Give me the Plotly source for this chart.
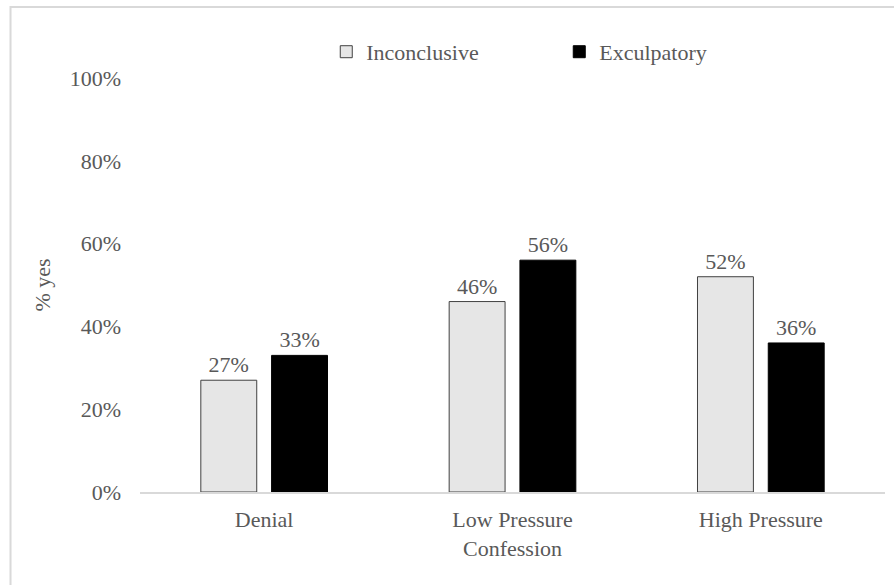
import plotly.graph_objects as go

# Share of "yes" responses by confession condition and evidence type
categories = ["Denial", "Low Pressure<br>Confession", "High Pressure"]
inconclusive = [0.27, 0.46, 0.52]
exculpatory = [0.33, 0.56, 0.36]

FONT = "Liberation Serif"
TEXT = "#595959"
SIZE = 22

fig = go.Figure()
fig.add_trace(go.Bar(
    name="Inconclusive", x=categories, y=inconclusive,
    marker=dict(color="#e6e6e6", line=dict(color="#404040", width=1)),
    text=[f"{v:.0%}" for v in inconclusive], textposition="outside",
    textfont=dict(family=FONT, size=SIZE, color=TEXT), cliponaxis=False,
))
fig.add_trace(go.Bar(
    name="Exculpatory", x=categories, y=exculpatory,
    marker=dict(color="#000000", line=dict(color="#000000", width=1)),
    text=[f"{v:.0%}" for v in exculpatory], textposition="outside",
    textfont=dict(family=FONT, size=SIZE, color=TEXT), cliponaxis=False,
))

fig.update_layout(
    width=894, height=585,
    margin=dict(l=140, r=9, t=78, b=93),
    paper_bgcolor="white", plot_bgcolor="white",
    font=dict(family=FONT, size=SIZE, color=TEXT),
    bargap=0.43, bargroupgap=0.21,
    showlegend=True,
    legend=dict(
        orientation="h", x=0.25, xanchor="left", y=1.063, yanchor="middle",
        entrywidth=188, entrywidthmode="pixels",
        font=dict(family=FONT, size=SIZE, color=TEXT),
        bgcolor="rgba(0,0,0,0)",
    ),
    xaxis=dict(
        showline=True, linecolor="#d9d9d9", linewidth=1.5,
        ticks="", showgrid=False, ticklabelstandoff=7,
        tickfont=dict(family=FONT, size=SIZE, color=TEXT),
    ),
    yaxis=dict(
        range=[0, 1], dtick=0.2, tickformat=".0%",
        showline=False, showgrid=False, zeroline=False, ticks="",
        ticklabelstandoff=18,
        tickfont=dict(family=FONT, size=SIZE, color=TEXT),
        title=dict(text="% yes", standoff=12,
                   font=dict(family=FONT, size=SIZE, color=TEXT)),
    ),
    shapes=[dict(
        type="rect", xref="paper", yref="paper",
        x0=-0.1738, x1=1.2, y0=-0.4, y1=1.1715,
        line=dict(color="#d9d9d9", width=2), fillcolor="rgba(0,0,0,0)",
        layer="below",
    )],
)

fig.write_html("out.html")
